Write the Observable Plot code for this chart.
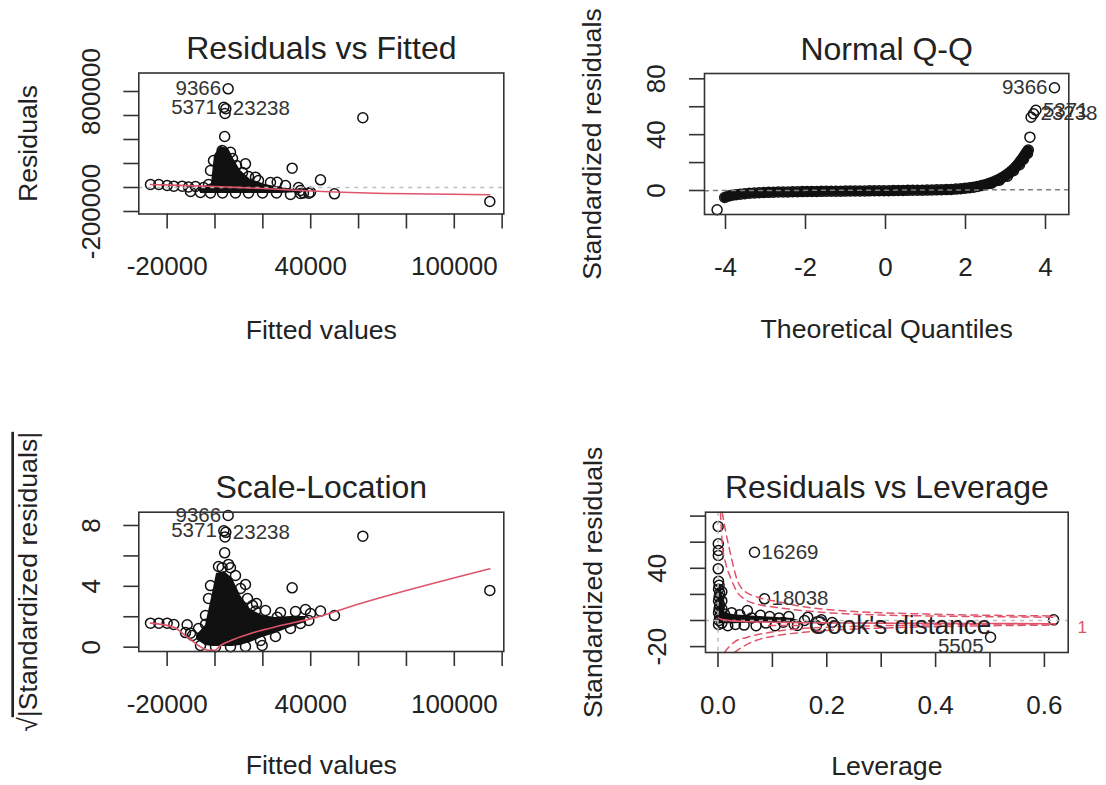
<!DOCTYPE html>
<html>
<head>
<meta charset="utf-8">
<script src="https://cdn.jsdelivr.net/npm/d3@7"></script>
<script src="https://cdn.jsdelivr.net/npm/@observablehq/plot@0.6"></script>
<style>
  body { margin: 0; background: #fff; }
  #chart { position: relative; width: 1106px; height: 785px; background: #fff; overflow: hidden; }
  #chart svg { position: absolute; }
</style>
</head>
<body>
<div id="chart"></div>
<script>
// ---------------- Panel 1: Residuals vs Fitted ----------------
const rvfTitle = "Residuals vs Fitted";
const rvfXTitle = "Fitted values";
const rvfYTitle = "Residuals";
const rvfXTicks = [-20000, 0, 20000, 40000, 60000, 80000, 100000, 120000];
const rvfXTickLabels = [-20000, 40000, 100000];
const rvfYTicks = [-200000, 0, 200000, 400000, 600000, 800000];
const rvfYTickLabels = [-200000, 800000];
const rvfFitted = [5500, 3690, 4526, 4200, 4040, 2995, 6477, 12746, 32248, 44088, 61778, 49939, 39212, 114852, 25980, 16925,
  -26954, -23473, -19989, -17204, -13721, -627, 7313, 8985, 11492, 14000, 18179, 23193, 29462, 34894, 35730, 31552,
  -6060, -10239, -8149, -2716, -1881, -1881, 3134, 8567, 14000, 19850, 25702, 36984, -11074, -4805, 39909, 35730];
const rvfResid = [822000, 669000, 656000, 617000, 425000, 308000, 294000, 197000, 161000, 64000, 581000, -53000, -47000, -117000, 44000, 86000,
  25000, 25000, 17000, 11000, 11000, 225000, 241700, 183300, 125000, 91700, 58300, 41700, 16700, 0, -50000, -58300,
  -41700, -33300, 8300, 25000, 141700, -45000, -45000, -45000, -45000, -45000, -45000, -45000, 4000, 0, -40000, -25000];
// dense (overplotted) core of the residual cloud: fitted value, lower and upper residual
const rvfCoreFitted = [-6060, -1463, -209, 2298, 5642, 8149, 10656, 14835, 21104, 27372, 35730];
const rvfCoreLow = [-50000, -50000, -50000, -50000, -50000, -50000, -50000, -50000, -50000, -50000, -42000];
const rvfCoreHigh = [-8000, 33000, 267000, 342000, 325000, 225000, 142000, 67000, 25000, 0, -25000];
const rvfSmoothX = [-26954, -15000, -6060, 5000, 20000, 35730, 50000, 63590, 90000, 114852];
const rvfSmoothY = [25000, 18000, 12000, 4000, -8000, -25000, -37000, -46000, -54000, -60000];
const rvfIdText = ["9366", "5371", "23238"];
const rvfIdX = [5500, 3690, 4526];
const rvfIdY = [822000, 669000, 656000];

// ---------------- Panel 2: Normal Q-Q ----------------
const qqTitle = "Normal Q-Q";
const qqXTitle = "Theoretical Quantiles";
const qqYTitle = "Standardized residuals";
const qqXTicks = [-4, -2, 0, 2, 4];
const qqXTickLabels = [-4, -2, 0, 2, 4];
const qqYTicks = [0, 20, 40, 60, 80];
const qqYTickLabels = [0, 40, 80];
// dense run of points along the curve
const qqBandTheo = [-4.02, -3.93, -3.84, -3.74, -3.63, -3.52, -3.40, -3.28, -3.16, -3.04, -2.92, -2.80, -2.68, -2.56, -2.44, -2.32,
  -2.20, -2.08, -1.96, -1.84, -1.72, -1.60, -1.48, -1.36, -1.24, -1.12, -1.00, -0.88, -0.76, -0.64, -0.52, -0.40, -0.28, -0.16,
  -0.04, 0.08, 0.20, 0.32, 0.44, 0.56, 0.68, 0.80, 0.92, 1.04, 1.16, 1.28, 1.40, 1.52, 1.64, 1.76, 1.88, 1.99, 2.10, 2.20,
  2.30, 2.40, 2.49, 2.58, 2.67, 2.76, 2.84, 2.92, 3.00, 3.07, 3.14, 3.21, 3.27, 3.33, 3.38, 3.43, 3.47, 3.51, 3.54, 3.57];
const qqBandStd = [-5.0, -4.0, -3.4, -3.0, -2.6, -2.3, -2.0, -1.8, -1.6, -1.45, -1.3, -1.2, -1.1, -1.05, -1.0, -0.9,
  -0.85, -0.8, -0.75, -0.7, -0.65, -0.6, -0.55, -0.5, -0.48, -0.45, -0.4, -0.38, -0.35, -0.3, -0.28, -0.25, -0.2, -0.18,
  -0.15, -0.1, -0.05, 0.0, 0.05, 0.1, 0.15, 0.2, 0.25, 0.3, 0.38, 0.45, 0.55, 0.65, 0.8, 1.0, 1.3, 1.6, 2.0, 2.4,
  2.9, 3.5, 4.2, 5.0, 5.9, 7.0, 8.1, 9.3, 10.7, 12.2, 13.8, 15.6, 17.4, 19.3, 21.2, 23.0, 24.8, 26.5, 27.8, 29.0];
const qqTheo = [3.05, 3.20, 3.35, 3.45, 3.55, 2.85, 2.65, -4.21, 3.61, 3.64, 3.70, 3.76, 4.225];
const qqStd = [10.2, 14.2, 18.5, 22.5, 26.5, 7.4, 5.2, -13.8, 38.2, 52.5, 55.0, 57.5, 73.6];
const qqLineX = [-4.525, 4.5825];
const qqLineY = [-0.1, 0.6];
const qqIdText = ["9366", "5371", "23238"];
const qqIdX = [4.225, 3.76, 3.70];
const qqIdY = [73.6, 57.5, 55.0];

// ---------------- Panel 3: Scale-Location ----------------
const slTitle = "Scale-Location";
const slXTitle = "Fitted values";
const slYTitle = "√|Standardized residuals|";
const slXTicks = [-20000, 0, 20000, 40000, 60000, 80000, 100000, 120000];
const slXTickLabels = [-20000, 40000, 100000];
const slYTicks = [0, 2, 4, 6, 8];
const slYTickLabels = [0, 4, 8];
const slFitted = [5500, 3690, 4526, 4200, 4040, 2995, 6477, 12746, 32248, 61778, 114852, 44088, 49939, 16925, 25980, 39212,
  -26954, -23473, -19989, -17204, -11630, -3970, 19712, -10239, 1463, 5642, 8567, 10656, 13582, 15671, 17343, 21104,
  27372, 33641, 37820, 39909, -2716, -1881, -3970, -6896, -9403, -12328, -6060, 209, 6477, 12746, 19015, 25284, 31552, 35730];
const slRoot = [8.66, 7.65, 7.55, 7.25, 6.20, 5.22, 5.22, 4.12, 3.90, 7.30, 3.73, 2.37, 2.08, 2.37, 1.97, 1.75,
  1.58, 1.58, 1.58, 1.49, 1.47, 1.51, 0.11, 0.92, 5.30, 5.44, 4.71, 3.86, 3.20, 2.74, 2.87, 2.41,
  2.28, 2.34, 2.48, 2.21, 3.20, 4.05, 2.08, 1.23, 0.77, 0.96, 0.11, 0.03, 0.03, 0.04, 0.44, 0.70, 1.23, 1.56];
const slCoreFitted = [-7731, -3970, -1045, 627, 3970, 7313, 10656, 14835, 19850, 25284, 31552, 37820];
const slCoreLow = [0.50, 0.11, 0.04, 0.04, 0.04, 0.04, 0.11, 0.31, 0.64, 0.90, 1.29, 1.62];
const slCoreHigh = [0.77, 1.42, 3.53, 4.84, 4.98, 4.51, 3.40, 2.48, 2.08, 1.95, 2.02, 2.02];
const slSmoothX = [-26954, -17204, -11630, -6060, -3000, 0, 2298, 7731, 16089, 27372, 39909, 60804, 114852];
const slSmoothY = [1.58, 1.31, 0.66, 0.02, -0.2, -0.2, 0.11, 0.5, 0.96, 1.42, 1.86, 2.87, 5.15];
const slIdText = ["9366", "5371", "23238"];
const slIdX = [5500, 3690, 4526];
const slIdY = [8.66, 7.65, 7.55];

// ---------------- Panel 4: Residuals vs Leverage ----------------
const rvlTitle = "Residuals vs Leverage";
const rvlXTitle = "Leverage";
const rvlYTitle = "Standardized residuals";
const rvlXTicks = [0, 0.1, 0.2, 0.3, 0.4, 0.5, 0.6];
const rvlXTickLabels = [0, 0.2, 0.4, 0.6];
const rvlYTicks = [-20, 0, 20, 40, 60, 80];
const rvlYTickLabels = [-20, 40];
const levH = [0.0003, 0.0005, 0.0008, 0.0006, 0.0004, 0.0671, 0.0855, 0.501, 0.617,
  0.001, 0.002, 0.001, 0.003, 0.002, 0.001, 0.003, 0.002, 0.001, 0.003, 0.002, 0.001, 0.007, 0.007, 0.007, 0.007, 0.007,
  0.012, 0.018, 0.025, 0.032, 0.04, 0.048, 0.054, 0.062, 0.07, 0.078, 0.088, 0.095, 0.105, 0.112, 0.12, 0.13, 0.14,
  0.146, 0.159, 0.165, 0.181, 0.19, 0.21];
const levR = [72.0, 58.8, 53.6, 49.8, 39.6, 52.3, 16.6, -12.8, 0.5,
  30, 27, 24, 21, 18, 15, 12, 9, 6, 3, 0, -3, 22, 15, 9, 3, -2,
  5, -4, 6, -3, 4.5, -3.5, 7.7, 2, -4, 4, -2, 3, -4, 2, -1.3, 3, -3,
  -3.8, 0, 2.5, -3.8, 0.5, -1.5];
const levCoreH = [0.0, 0.006, 0.012, 0.03, 0.06, 0.1, 0.14];
const levCoreLow = [-3, -2.5, -2.5, -2.5, -2, -1.5, -1];
const levCoreHigh = [28, 26, 6, 4.5, 3.5, 2.5, 1.5];
const levSmoothX = [0.0005, 0.01, 0.05, 0.1, 0.2, 0.3, 0.4, 0.5, 0.617];
const levSmoothY = [2, 0.5, -0.8, -1.3, -1.8, -2.0, -2.2, -2.3, -2.5];
const cookUp1X = [0.0077, 0.0138, 0.023, 0.0353, 0.0474, 0.072, 0.109, 0.158, 0.207, 0.3, 0.4, 0.5, 0.62];
const cookUp1Y = [83, 69, 51, 31, 23, 18, 14.5, 10.5, 8.2, 6.0, 4.8, 4.0, 3.5];
const cookUp05X = [0.0045, 0.008, 0.014, 0.023, 0.035, 0.05, 0.072, 0.109, 0.158, 0.207, 0.3, 0.4, 0.5, 0.62];
const cookUp05Y = [83, 58, 44, 33, 22, 16, 12.5, 10, 7.5, 5.8, 4.2, 3.4, 2.9, 2.5];
const cookLo05X = [0.012, 0.017, 0.03, 0.054, 0.0965, 0.158, 0.207, 0.3, 0.4, 0.5, 0.62];
const cookLo05Y = [-24.5, -21.7, -16.5, -12.8, -9.0, -6.0, -5.0, -4.0, -3.3, -2.8, -2.5];
const cookLo1X = [0.03, 0.05, 0.072, 0.109, 0.158, 0.207, 0.3, 0.4, 0.5, 0.62];
const cookLo1Y = [-24.5, -19, -15, -11.5, -9, -7.5, -5.8, -4.7, -4.0, -3.5];
const cookLevelText = ["1"];
const cookLevelX = [0.6695];
const cookLevelY = [-5.1];
const cookLegendText = "Cook's distance";
const cookLegendX = [0.093, 0.157];
const cookLegendY = [-3.8, -3.8];
const cookLegendTextX = 0.1664;
const rvlIdText = ["16269", "18038", "5505"];
const rvlIdX = [0.0671, 0.0855, 0.501];
const rvlIdY = [52.3, 16.6, -19.9];

// ---------------- helpers ----------------
const FONT = "'Liberation Sans', Arial, Helvetica, sans-serif";
const INK = "#222";
const PT = "#111";
const RED = "#DF536B";
const GRAY = "#BEBEBE";
const GRAY50 = "#7F7F7F";
const pts = (xs, ys) => xs.map((x, i) => ({x, y: ys[i]}));
const band = (xs, lo, hi) => xs.map((x, i) => ({x, lo: lo[i], hi: hi[i]}));
const ids = (t, xs, ys) => t.map((s, i) => ({s, x: xs[i], y: ys[i]}));

function furniture(c) {
  const T = {textAnchor: "middle", lineAnchor: "middle", fill: INK};
  return [
    Plot.frame({stroke: "#333", strokeWidth: 1.6}),
    Plot.axisX({ticks: c.xTicks, tickSize: 15, tickFormat: () => "", label: null, stroke: "#333", strokeWidth: 1.6}),
    Plot.axisY({ticks: c.yTicks, tickSize: 15, tickFormat: () => "", label: null, stroke: "#333", strokeWidth: 1.6}),
    Plot.text(c.xLabels, {...T, x: d => d, text: c.xFmt, frameAnchor: "bottom", dy: 53, fontSize: 26}),
    Plot.text(c.yLabels, {...T, y: d => d, text: c.yFmt, frameAnchor: "left", dx: -47.5, rotate: -90, fontSize: 26}),
    Plot.text([c.title], {...T, frameAnchor: "top", dy: -24.2, fontSize: 32}),
    Plot.text([c.xTitle], {...T, frameAnchor: "bottom", dy: c.xTitleDy, fontSize: 26.7}),
    Plot.text([c.yTitle], {...T, frameAnchor: "left", dx: c.yTitleDx, rotate: -90, fontSize: 26.7})
  ];
}

function idLabels(data, rightSet) {
  return [
    Plot.text(data.filter(d => !rightSet.has(d.s)), {x: "x", y: "y", text: "s", textAnchor: "end", lineAnchor: "middle", dx: -7, fontSize: 20.5, fill: "#333"}),
    Plot.text(data.filter(d => rightSet.has(d.s)), {x: "x", y: "y", text: "s", textAnchor: "start", lineAnchor: "middle", dx: 7, fontSize: 20.5, fill: "#333"})
  ];
}

function place(svg, left, top) {
  svg.style.left = left + "px";
  svg.style.top = top + "px";
  document.getElementById("chart").appendChild(svg);
  return svg;
}

const baseStyle = {fontFamily: FONT, background: "transparent", overflow: "visible", color: INK};
const intFmt = d => String(d);

// Panel 1
place(Plot.plot({
  width: 553, height: 392,
  marginLeft: 138.3, marginRight: 49.7, marginTop: 72.5, marginBottom: 178.5,
  x: {domain: [-31844, 120690]},
  y: {domain: [-220833, 954167]},
  style: baseStyle,
  marks: [
    Plot.areaY(band(rvfCoreFitted, rvfCoreLow, rvfCoreHigh), {x: "x", y1: "lo", y2: "hi", fill: PT}),
    Plot.dot(pts(rvfFitted, rvfResid), {x: "x", y: "y", r: 5, stroke: PT, strokeWidth: 1.5}),
    Plot.ruleY([0], {stroke: GRAY, strokeDasharray: "4,5", strokeWidth: 1.5}),
    Plot.line(pts(rvfSmoothX, rvfSmoothY), {x: "x", y: "y", stroke: RED, strokeWidth: 1.6, curve: "monotone-x"}),
    ...idLabels(ids(rvfIdText, rvfIdX, rvfIdY), new Set(["23238"])),
    ...furniture({title: rvfTitle, xTitle: rvfXTitle, yTitle: rvfYTitle, xTicks: rvfXTicks, yTicks: rvfYTicks,
      xLabels: rvfXTickLabels, yLabels: rvfYTickLabels, xFmt: intFmt, yFmt: intFmt, xTitleDy: 116.3, yTitleDx: -110})
  ]
}), 0, 0);

// Panel 2
place(Plot.plot({
  width: 553, height: 392,
  marginLeft: 151, marginRight: 37.7, marginTop: 73, marginBottom: 178,
  x: {domain: [-4.525, 4.5825]},
  y: {domain: [-17.19, 83.81]},
  style: baseStyle,
  marks: [
    Plot.line(pts(qqBandTheo, qqBandStd), {x: "x", y: "y", stroke: PT, strokeWidth: 9, curve: "monotone-x"}),
    Plot.dot(pts(qqBandTheo, qqBandStd), {x: "x", y: "y", r: 5, stroke: PT, strokeWidth: 1.5}),
    Plot.dot(pts(qqTheo, qqStd), {x: "x", y: "y", r: 5, stroke: PT, strokeWidth: 1.5}),
    Plot.line(pts(qqLineX, qqLineY), {x: "x", y: "y", stroke: GRAY50, strokeDasharray: "4,5", strokeWidth: 1.5}),
    ...idLabels(ids(qqIdText, qqIdX, qqIdY), new Set(["5371", "23238"])),
    ...furniture({title: qqTitle, xTitle: qqXTitle, yTitle: qqYTitle, xTicks: qqXTicks, yTicks: qqYTicks,
      xLabels: qqXTickLabels, yLabels: qqYTickLabels, xFmt: intFmt, yFmt: intFmt, xTitleDy: 115, yTitleDx: -112})
  ]
}), 553, 0);

// Panel 3
const svg3 = place(Plot.plot({
  width: 553, height: 393,
  marginLeft: 138.3, marginRight: 49.7, marginTop: 119.7, marginBottom: 134,
  x: {domain: [-31844, 120690]},
  y: {domain: [-0.285, 8.874]},
  style: baseStyle,
  marks: [
    Plot.areaY(band(slCoreFitted, slCoreLow, slCoreHigh), {x: "x", y1: "lo", y2: "hi", fill: PT}),
    Plot.dot(pts(slFitted, slRoot), {x: "x", y: "y", r: 5, stroke: PT, strokeWidth: 1.5}),
    Plot.line(pts(slSmoothX, slSmoothY), {x: "x", y: "y", stroke: RED, strokeWidth: 1.6, curve: "monotone-x"}),
    ...idLabels(ids(slIdText, slIdX, slIdY), new Set(["23238"])),
    ...furniture({title: slTitle, xTitle: slXTitle, yTitle: slYTitle, xTicks: slXTicks, yTicks: slYTicks,
      xLabels: slXTickLabels, yLabels: slYTickLabels, xFmt: intFmt, yFmt: intFmt, xTitleDy: 114, yTitleDx: -110})
  ]
}), 0, 392);

d3.select(svg3).selectAll("text").filter(function () { return this.textContent === slYTitle; }).each(function () {
  const t = d3.select(this);
  t.text(null);
  t.append("tspan").text("√");
  t.append("tspan").style("text-decoration", "overline").text(slYTitle.slice(1));
});

// Panel 4
const cookRows = [
  ...pts(cookUp1X, cookUp1Y).map(d => ({...d, g: "up1"})),
  ...pts(cookUp05X, cookUp05Y).map(d => ({...d, g: "up05"})),
  ...pts(cookLo05X, cookLo05Y).map(d => ({...d, g: "lo05"})),
  ...pts(cookLo1X, cookLo1Y).map(d => ({...d, g: "lo1"}))
];
place(Plot.plot({
  width: 553, height: 393,
  marginLeft: 152, marginRight: 38.3, marginTop: 119.7, marginBottom: 133,
  x: {domain: [-0.02298, 0.64375]},
  y: {domain: [-24.52, 82.99]},
  style: baseStyle,
  marks: [
    Plot.areaY(band(levCoreH, levCoreLow, levCoreHigh), {x: "x", y1: "lo", y2: "hi", fill: PT}),
    Plot.dot(pts(levH, levR), {x: "x", y: "y", r: 5, stroke: PT, strokeWidth: 1.5}),
    Plot.ruleY([0], {stroke: GRAY, strokeDasharray: "4,5", strokeWidth: 1.5}),
    Plot.ruleX([0], {stroke: GRAY, strokeDasharray: "4,5", strokeWidth: 1.5}),
    Plot.line(pts(levSmoothX, levSmoothY), {x: "x", y: "y", stroke: RED, strokeWidth: 1.6, curve: "monotone-x"}),
    Plot.line(cookRows, {x: "x", y: "y", z: "g", stroke: RED, strokeDasharray: "7,5", strokeWidth: 1.5, curve: "monotone-x"}),
    Plot.text(ids(cookLevelText, cookLevelX, cookLevelY), {x: "x", y: "y", text: "s", fill: RED, fontSize: 17}),
    Plot.line(pts(cookLegendX, cookLegendY), {x: "x", y: "y", stroke: RED, strokeDasharray: "7,5", strokeWidth: 1.5}),
    Plot.text([cookLegendText], {x: () => cookLegendTextX, y: () => cookLegendY[0], textAnchor: "start", lineAnchor: "middle", fontSize: 26, fill: INK}),
    ...idLabels(ids(rvlIdText, rvlIdX, rvlIdY), new Set(["16269", "18038"])),
    ...furniture({title: rvlTitle, xTitle: rvlXTitle, yTitle: rvlYTitle, xTicks: rvlXTicks, yTicks: rvlYTicks,
      xLabels: rvlXTickLabels, yLabels: rvlYTickLabels, xFmt: d => d.toFixed(1), yFmt: intFmt, xTitleDy: 114, yTitleDx: -112})
  ]
}), 553, 392);
</script>
</body>
</html>
